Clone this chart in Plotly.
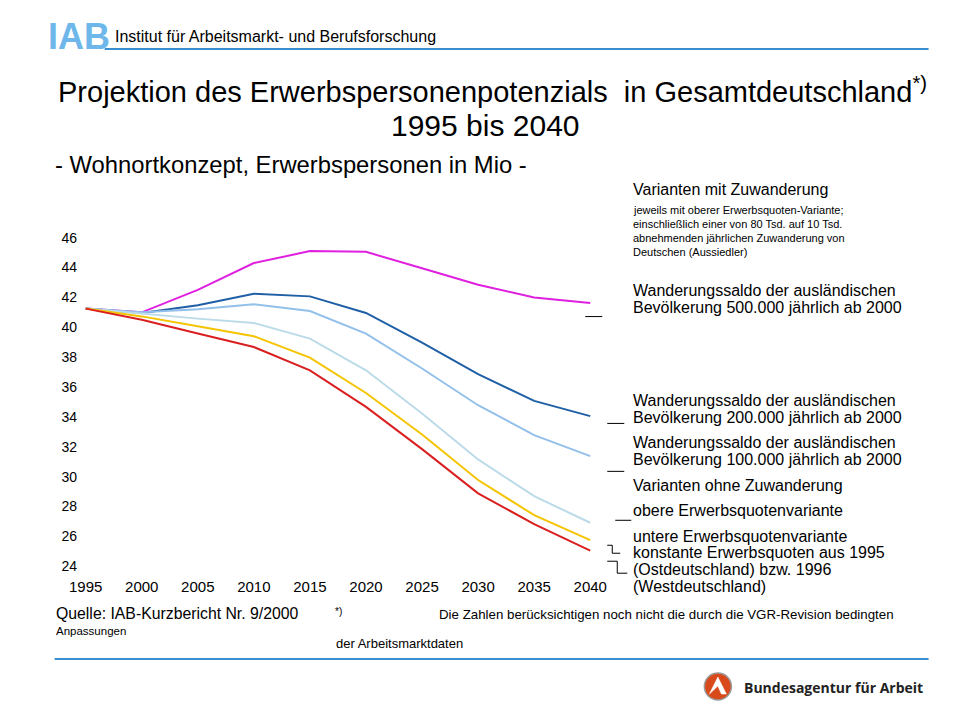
import plotly.graph_objects as go

years = [1995, 2000, 2005, 2010, 2015, 2020, 2025, 2030, 2035, 2040]
saldo_500 = [41.25, 41.0, 42.5, 44.3, 45.1, 45.05, 43.95, 42.85, 42.0, 41.63]
saldo_200 = [41.25, 40.95, 41.47, 42.25, 42.07, 40.96, 38.98, 36.86, 35.07, 34.05]
saldo_100 = [41.25, 41.0, 41.2, 41.54, 41.09, 39.58, 37.24, 34.78, 32.78, 31.37]
obere_ohne = [41.25, 40.9, 40.58, 40.29, 39.24, 37.12, 34.23, 31.15, 28.69, 26.91]
untere_ohne = [41.25, 40.73, 40.07, 39.4, 37.97, 35.6, 32.82, 29.77, 27.42, 25.75]
konstant_ohne = [41.25, 40.5, 39.58, 38.68, 37.12, 34.67, 31.84, 28.88, 26.82, 25.04]

y_ticks = [24, 26, 28, 30, 32, 34, 36, 38, 40, 42, 44, 46]
x_ticks = [1995, 2000, 2005, 2010, 2015, 2020, 2025, 2030, 2035, 2040]

series = [
    ("500.000", saldo_500, "#e020e0"),
    ("200.000", saldo_200, "#1f5fa6"),
    ("100.000", saldo_100, "#93c0ea"),
    ("obere", obere_ohne, "#bcdbe8"),
    ("untere", untere_ohne, "#f5c400"),
    ("konstant", konstant_ohne, "#d91f1f"),
]

W, H = 960, 720
SX, OX, OY = 0.976, 21.4, 8.0  # observed placement of the page in the photo


def px(x):
    return (x - OX) / SX / W


def py(y):
    return 1 - (y - OY) / H


fig = go.Figure()
for name, vals, col in series:
    fig.add_trace(go.Scatter(x=years, y=vals, mode="lines", name=name,
                             line=dict(color=col, width=2), showlegend=False))

FONT = "Liberation Sans, Arial, sans-serif"
NARROW = "Liberation Sans Narrow, Arial Narrow, Liberation Sans, sans-serif"

# axis geometry: 1995 -> 88px, 2040 -> 592px ; 24 -> 566px, 46 -> 237px
xppu = (592 - 88) / 45.0
yppu = (566 - 237) / 22.0
xr = [1994.5, 2040.5]
yr = [23.5, 46.5]
x0 = 88 - 0.5 * xppu
x1 = 592 + 0.5 * xppu
y0 = 566 + 0.5 * yppu
y1 = 237 - 0.5 * yppu

fig.update_layout(
    width=W, height=H,
    margin=dict(l=0, r=0, t=0, b=0),
    paper_bgcolor="white", plot_bgcolor="white",
    xaxis=dict(domain=[px(x0), px(x1)], range=xr, tickvals=x_ticks,
               showgrid=False, zeroline=False, showline=False, ticks="",
               tickfont=dict(family=NARROW, size=15, color="black"),
               ticklabelstandoff=2),
    yaxis=dict(domain=[py(y0), py(y1)], range=yr, tickvals=y_ticks,
               showgrid=False, zeroline=False, showline=False, ticks="",
               tickfont=dict(family=NARROW, size=14, color="black"),
               ticklabelstandoff=2),
    font=dict(family=FONT, color="black"),
)

ann = []


def text(x, y, s, size, anchor="left", family=FONT, color="black", bold=False):
    if bold:
        s = "<b>" + s + "</b>"
    ann.append(dict(x=px(x), y=py(y), xref="paper", yref="paper", text=s,
                    showarrow=False, xanchor=anchor, yanchor="middle",
                    font=dict(family=family, size=size, color=color)))


# header
text(48, 36, "IAB", 36, bold=True, color="#6db7ea")
text(115, 36, "Institut für Arbeitsmarkt- und Berufsforschung", 16)

# titles
text(494, 89, "Projektion des Erwerbspersonenpotenzials&nbsp; in Gesamtdeutschland<sup>*)</sup>", 29, anchor="center")
text(487, 125, "1995 bis 2040", 30, anchor="center")
text(55, 164, "- Wohnortkonzept, Erwerbspersonen in Mio -", 23.8)

# right-side labels
text(633, 189, "Varianten mit Zuwanderung", 16)
small = ["jeweils mit oberer Erwerbsquoten-Variante;",
         "einschließlich einer von 80 Tsd. auf 10 Tsd.",
         "abnehmenden jährlichen Zuwanderung von",
         "Deutschen (Aussiedler)"]
for i, s in enumerate(small):
    text(633, 209 + i * 14, s, 11)
text(633, 290, "Wanderungssaldo der ausländischen", 16)
text(633, 307, "Bevölkerung 500.000 jährlich ab 2000", 16)
text(633, 400, "Wanderungssaldo der ausländischen", 16)
text(633, 417, "Bevölkerung 200.000 jährlich ab 2000", 16)
text(633, 442, "Wanderungssaldo der ausländischen", 16)
text(633, 459, "Bevölkerung 100.000 jährlich ab 2000", 16)
text(633, 485, "Varianten ohne Zuwanderung", 16)
text(633, 510, "obere Erwerbsquotenvariante", 16)
text(633, 536, "untere Erwerbsquotenvariante", 16)
text(633, 552, "konstante Erwerbsquoten aus 1995", 16)
text(633, 569, "(Ostdeutschland) bzw. 1996", 16)
text(633, 586, "(Westdeutschland)", 16)

# footer
text(56, 613, "Quelle: IAB-Kurzbericht Nr. 9/2000", 15.8, family=NARROW)
text(56, 631, "Anpassungen", 11.5, family=NARROW)
text(335, 611, "*)", 10, family=NARROW)
text(439, 614, "Die Zahlen berücksichtigen noch nicht die durch die VGR-Revision bedingten", 13.3, family=NARROW)
text(336, 643, "der Arbeitsmarktdaten", 13, family=NARROW)

# BA logo text
text(744, 687, "Bundesagentur für Arbeit", 14, bold=True, family="Open Sans, Liberation Sans, sans-serif", color="#222222")

fig.update_layout(annotations=ann)

shapes = []


def seg(xa, ya, xb, yb, color="black", width=1):
    shapes.append(dict(type="line", xref="paper", yref="paper",
                       x0=px(xa), y0=py(ya), x1=px(xb), y1=py(yb),
                       line=dict(color=color, width=width)))


# header / footer rules
seg(107, 48, 930, 48, color="#3a8fd3", width=2)
seg(57, 659, 930, 659, color="#3a8fd3", width=2)

# leader lines
seg(587, 316, 604, 316)
seg(609, 423, 626, 423)
seg(609, 471, 626, 471)
seg(617, 520, 633, 520)
# brackets
seg(609, 545, 614, 545)
seg(614, 545, 614, 553)
seg(614, 553, 622, 553)
seg(609, 561, 619, 561)
seg(619, 561, 619, 573)
seg(619, 573, 629, 573)

# BA logo circle
shapes.append(dict(type="circle", xref="paper", yref="paper",
                   x0=px(706), x1=px(733), y0=py(700), y1=py(673),
                   fillcolor="#d84a1b", line=dict(color="#9a9a9a", width=1.5)))
# white "A" glyph
path = "M {} {} L {} {} L {} {} L {} {} L {} {} Z".format(
    px(711), py(694), px(719.5), py(677), px(728), py(694), px(723), py(694), px(719.5), py(686))
shapes.append(dict(type="path", xref="paper", yref="paper", path=path,
                   fillcolor="white", line=dict(color="white", width=0.5)))
shapes.append(dict(type="path", xref="paper", yref="paper",
                   path="M {} {} L {} {} L {} {} Z".format(px(716), py(694), px(719.5), py(690), px(721), py(694)),
                   fillcolor="#d84a1b", line=dict(width=0)))

fig.update_layout(shapes=shapes)

fig.write_html("out.html")
